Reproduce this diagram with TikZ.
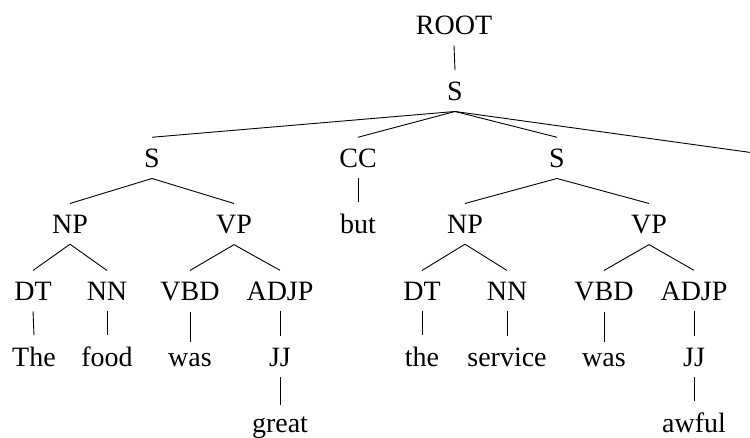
\documentclass[tikz,border=0pt]{standalone}
\usepackage{fontspec}
\setmainfont{Liberation Serif}
\begin{document}
\begin{tikzpicture}[x=1pt,y=-1pt,
  lbl/.style={anchor=base, inner xsep=0pt, inner ysep=11pt,
              font=\fontsize{28}{34}\selectfont},
  edge/.style={line width=0.9pt}]
\clip (0,0) rectangle (750,437);
\fill[white] (0,0) rectangle (750,437);

% labels, placed by baseline
\node[lbl] (root) at (454,34) {ROOT};
\node[lbl] (s0)   at (455,100) {S};

\node[lbl] (s1) at (152,167) {S};
\node[lbl] (cc) at (358,167) {CC};
\node[lbl] (s2) at (557,167) {S};
\coordinate (offr) at (1050,194);

\node[lbl] (np1) at (70,233) {NP};
\node[lbl] (vp1) at (234,233) {VP};
\node[lbl] (but) at (358,233) {but};
\node[lbl] (np2) at (465,233) {NP};
\node[lbl] (vp2) at (649,233) {VP};

\node[lbl] (dt1)   at (33,300)  {DT};
\node[lbl] (nn1)   at (107,300) {NN};
\node[lbl] (vbd1)  at (190,300) {VBD};
\node[lbl] (adjp1) at (280,300) {ADJP};
\node[lbl] (dt2)   at (422,300) {DT};
\node[lbl] (nn2)   at (507,300) {NN};
\node[lbl] (vbd2)  at (604,300) {VBD};
\node[lbl] (adjp2) at (694,300) {ADJP};

\node[lbl] (w1)  at (34,366)  {The};
\node[lbl] (w2)  at (107,366) {food};
\node[lbl] (w3)  at (190,366) {was};
\node[lbl] (jj1) at (280,366) {JJ};
\node[lbl] (w5)  at (422,366) {the};
\node[lbl] (w6)  at (507,366) {service};
\node[lbl] (w7)  at (604,366) {was};
\node[lbl] (jj2) at (694,366) {JJ};

\node[lbl] (w4) at (280,432) {great};
\node[lbl] (w8) at (694,432) {awful};

% branches
\draw[edge] (root.south) -- (s0.north);
\draw[edge] (s0.south) -- (s1.north);
\draw[edge] (s0.south) -- (cc.north);
\draw[edge] (s0.south) -- (s2.north);
\draw[edge] (s0.south) -- (offr);

\draw[edge] (s1.south) -- (np1.north);
\draw[edge] (s1.south) -- (vp1.north);
\draw[edge] (cc.south) -- (but.north);
\draw[edge] (s2.south) -- (np2.north);
\draw[edge] (s2.south) -- (vp2.north);

\draw[edge] (np1.south) -- (dt1.north);
\draw[edge] (np1.south) -- (nn1.north);
\draw[edge] (vp1.south) -- (vbd1.north);
\draw[edge] (vp1.south) -- (adjp1.north);
\draw[edge] (np2.south) -- (dt2.north);
\draw[edge] (np2.south) -- (nn2.north);
\draw[edge] (vp2.south) -- (vbd2.north);
\draw[edge] (vp2.south) -- (adjp2.north);

\draw[edge] (dt1.south) -- (w1.north);
\draw[edge] (nn1.south) -- (w2.north);
\draw[edge] (vbd1.south) -- (w3.north);
\draw[edge] (adjp1.south) -- (jj1.north);
\draw[edge] (dt2.south) -- (w5.north);
\draw[edge] (nn2.south) -- (w6.north);
\draw[edge] (vbd2.south) -- (w7.north);
\draw[edge] (adjp2.south) -- (jj2.north);

\draw[edge] (jj1.south) -- (w4.north);
\draw[edge] (jj2.south) -- (w8.north);
\end{tikzpicture}
\end{document}
